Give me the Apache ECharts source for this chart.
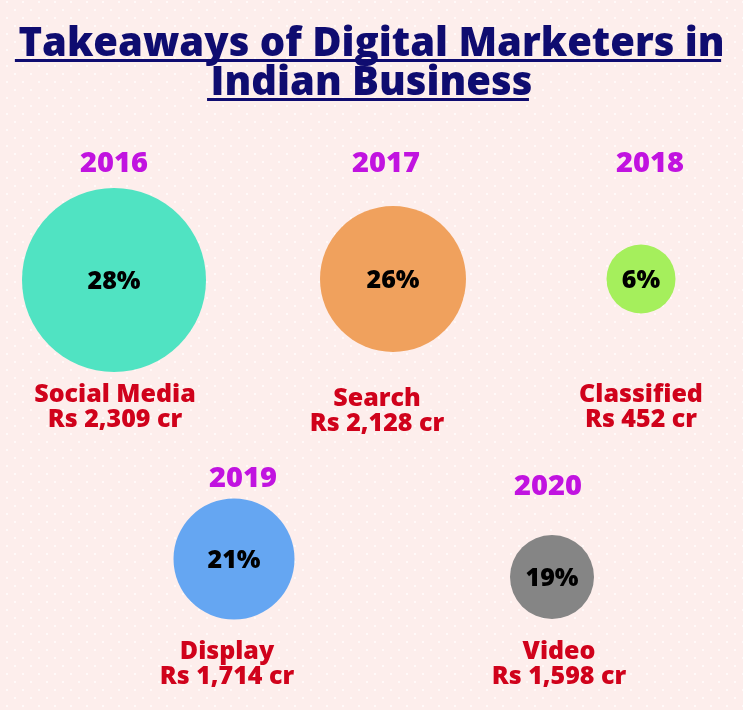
<!DOCTYPE html>
<html>
<head>
<meta charset="utf-8">
<script src="https://cdn.jsdelivr.net/npm/echarts@6/dist/echarts.min.js"></script>
<style>
  html, body { margin: 0; padding: 0; }
  #chart { width: 743px; height: 710px; }
</style>
</head>
<body>
<div id="chart"></div>
<script>
// chart data
const channels = ['Social Media', 'Search', 'Classified', 'Display', 'Video'];
const years = ['2016', '2017', '2018', '2019', '2020'];
const shares = [28, 26, 6, 21, 19];          // % share
const spendCr = [2309, 2128, 452, 1714, 1598]; // Rs crore

// layout (infographic placement, not data)
const bubbleX = [114, 393, 641, 234, 552];
const bubbleY = [280, 279, 279, 559, 577];
const bubbleD = [184, 146, 69, 121, 84];
const yearX = [114, 386, 650, 243, 548];
const yearY = [164, 164, 164, 479, 487];
const nameX = [115, 377, 641, 227, 559];
const nameY = [407, 411, 407, 664, 664];
const colors = ['#50e3c2', '#f0a15d', '#a5ef5c', '#65a6f2', '#858585'];

const FONT = '"Open Sans"';
const WEIGHT = 800;
const NAVY = '#0f0c70';
const titleLines = ['Takeaways of Digital Marketers in', 'Indian Business'];
const titleSize = 40;

function fmt(n) {
  return String(n).replace(/\B(?=(\d{3})+(?!\d))/g, ',');
}

// dotted background tile
const tile = document.createElement('canvas');
tile.width = 16; tile.height = 16;
const tctx = tile.getContext('2d');
tctx.fillStyle = '#fdeeec';
tctx.fillRect(0, 0, 16, 16);
tctx.fillStyle = '#fff9f8';
tctx.fillRect(6, 1, 2, 2);
tctx.fillRect(14, 9, 2, 2);

// underline widths
const mctx = document.createElement('canvas').getContext('2d');
mctx.font = WEIGHT + ' ' + titleSize + 'px ' + FONT;
const underlines = titleLines.map(function (t, i) {
  const w = mctx.measureText(t).width;
  return {
    type: 'rect',
    shape: { x: 368 - w / 2, y: 59 + i * 39, width: w, height: 3 },
    style: { fill: NAVY }
  };
});

const textOnly = { type: 'scatter', symbolSize: 0, itemStyle: { opacity: 1 }, emphasis: { disabled: true } };

const myChart = echarts.init(document.getElementById('chart'));
const option = {
  backgroundColor: { image: tile, repeat: 'repeat' },
  animation: false,
  title: {
    text: titleLines.join('\n'),
    left: 'center',
    top: 25,
    padding: [0, 7, 0, 0],
    textStyle: {
      fontFamily: FONT,
      fontWeight: WEIGHT,
      fontSize: titleSize,
      lineHeight: 39,
      color: NAVY
    }
  },
  graphic: underlines,
  grid: { left: 0, right: 0, top: 0, bottom: 0 },
  xAxis: { type: 'value', min: 0, max: 743, show: false },
  yAxis: { type: 'value', min: 0, max: 710, inverse: true, show: false },
  series: [
    {
      type: 'scatter',
      data: shares.map(function (v, i) {
        return {
          value: [bubbleX[i], bubbleY[i]],
          symbolSize: bubbleD[i],
          itemStyle: { color: colors[i], opacity: 1 },
          label: { formatter: v + '%' }
        };
      }),
      label: {
        show: true,
        position: 'inside',
        offset: [0, 2],
        color: '#000',
        fontFamily: FONT,
        fontWeight: WEIGHT,
        fontSize: 25
      },
      emphasis: { disabled: true }
    },
    Object.assign({}, textOnly, {
      data: years.map(function (y, i) {
        return { value: [yearX[i], yearY[i]], label: { formatter: y } };
      }),
      label: {
        show: true,
        position: 'inside',
        color: '#c113e0',
        fontFamily: FONT,
        fontWeight: WEIGHT,
        fontSize: 29
      }
    }),
    Object.assign({}, textOnly, {
      data: channels.map(function (c, i) {
        return {
          value: [nameX[i], nameY[i]],
          label: { formatter: c + '\nRs ' + fmt(spendCr[i]) + ' cr' }
        };
      }),
      label: {
        show: true,
        position: 'inside',
        align: 'center',
        color: '#d0021b',
        fontFamily: FONT,
        fontWeight: WEIGHT,
        fontSize: 25,
        lineHeight: 25
      }
    })
  ]
};
myChart.setOption(option);
</script>
</body>
</html>
